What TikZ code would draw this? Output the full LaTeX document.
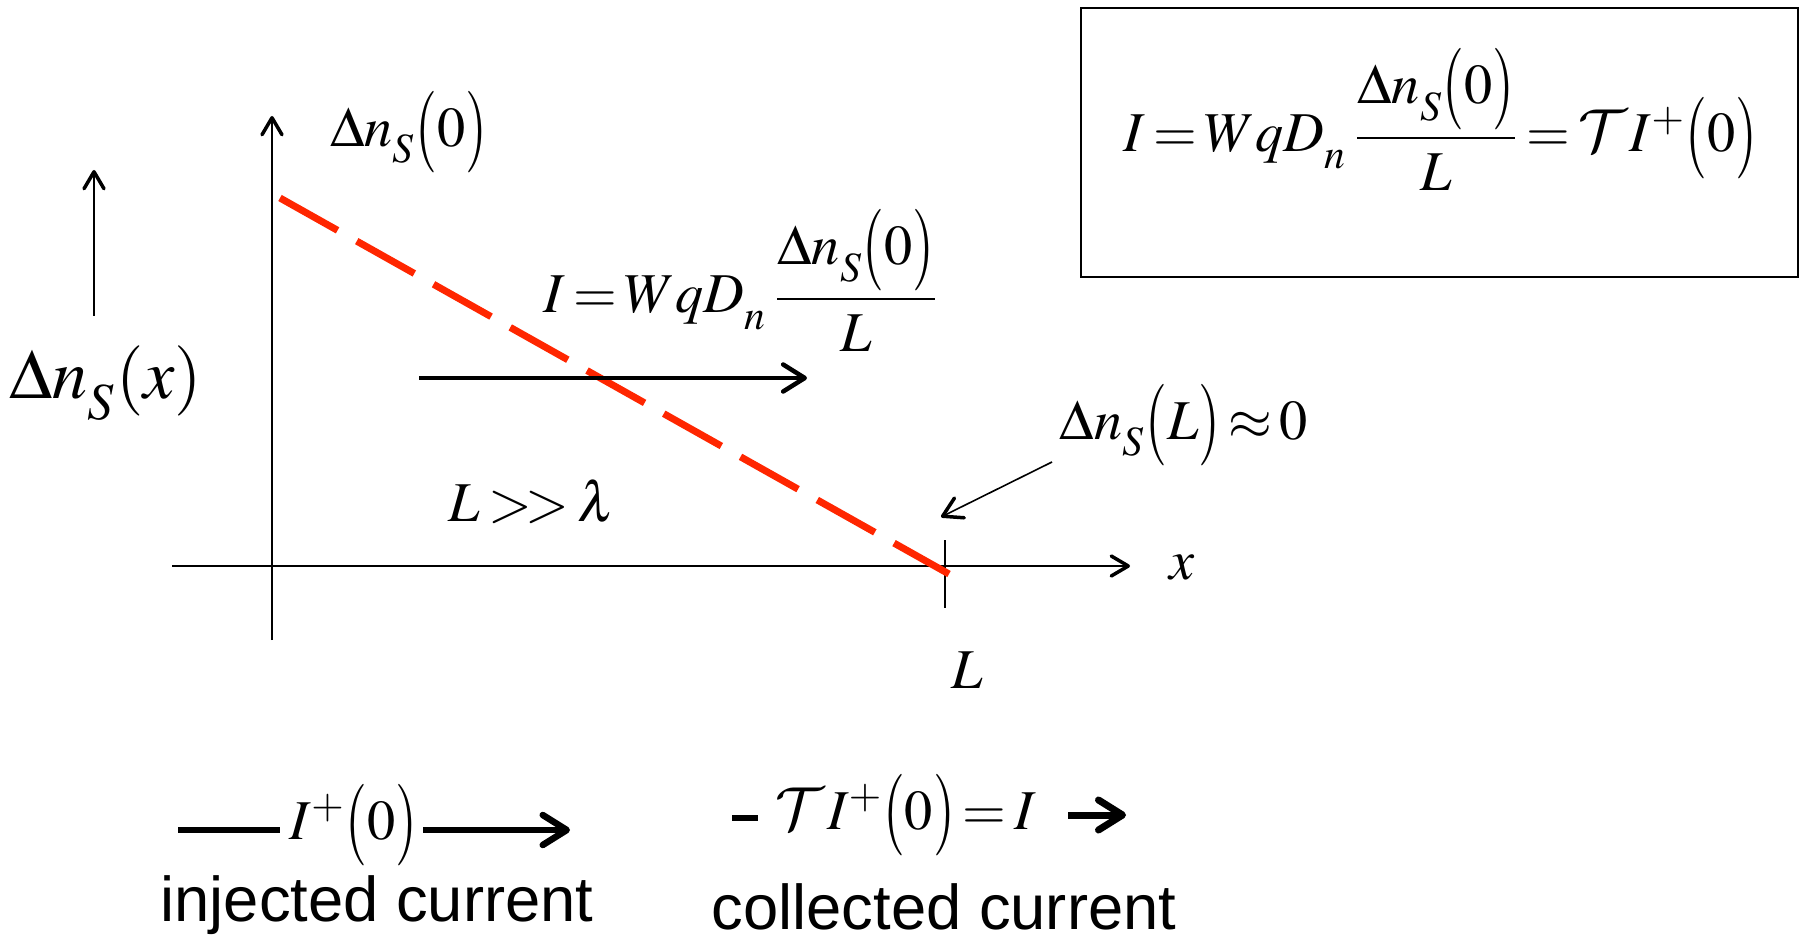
\documentclass[tikz,border=0pt]{standalone}
\usepackage{amsmath}
\usepackage{graphicx}
\usepackage{mathptmx}
\usepackage[no-math]{fontspec}
\setsansfont{Liberation Sans}
\usetikzlibrary{arrows.meta}
\definecolor{dashred}{RGB}{255,38,0}
\DeclareMathAlphabet{\mathcmcal}{OMS}{cmsy}{m}{n}
\newcommand{\tightmath}{\thickmuskip=2.5mu\relax\medmuskip=2mu\relax}
\newcommand{\lp}{\mathopen{\vcenter{\hbox{\scalebox{1}[1.45]{$($}}}}}
\newcommand{\rp}{\mathclose{\vcenter{\hbox{\scalebox{1}[1.45]{$)$}}}}}
\newcommand{\dsub}[1]{_{\lower0.15em\hbox{$\scriptstyle #1$}}}
\tikzset{
  px/.style={line width=#1*0.2845pt},
  chev/.style={-{Straight Barb[length=#1*0.8*0.2845pt, width=#1*0.2845pt, round]}},
  thinchev/.style={-{Straight Barb[length=#1*0.85*0.2845pt, width=#1*0.2845pt, round, line width=3.5*0.2845pt]}},
  eqtext/.style={inner sep=0pt, font={\fontsize{16}{19}\selectfont}},
  captext/.style={inner sep=0pt, font={\sffamily\fontsize{18}{21}\selectfont}},
}
\begin{document}
\begin{tikzpicture}[x=0.01cm,y=-0.01cm]
\path[use as bounding box, fill=white] (0,0) rectangle (1801,937);

% left small arrow and label
\coordinate (la0) at (94,316);
\coordinate (la1) at (94,170);
\draw[px=2, thinchev=20] (la0) -- (la1);
\node[inner sep=0pt, font={\fontsize{20}{24}\selectfont}] (nsx) at (106,383) {$\Delta n\dsub{S}(x)$};

% axes
\coordinate (yb) at (272,640);
\coordinate (yt) at (272,116);
\coordinate (xl) at (172,566);
\coordinate (xr) at (1130,566);
\draw[px=2, thinchev=20] (yb) -- (yt);
\draw[px=2, thinchev=20] (xl) -- (xr);
\coordinate (tk0) at (945,540);
\coordinate (tk1) at (945,608);
\draw[px=2] (tk0) -- (tk1);

\node[eqtext] (xlab) at (1182,568) {$x$};
\node[eqtext] (Llab) at (967,670) {$L$};
\node[eqtext] (n0) at (409,132) {$\Delta n\dsub{S}\lp 0\rp$};

% red dashed profile
\coordinate (r0) at (280,198);
\coordinate (r1) at (949,574);
\draw[dashred, px=7, dash pattern=on 66*0.2845pt off 22*0.2845pt] (r0) -- (r1);

% current arrow
\coordinate (ca0) at (419,378);
\coordinate (ca1) at (807,378);
\draw[px=4.5, chev=27] (ca0) -- (ca1);

% middle equation
\node[eqtext, anchor=base west] (meq) at (543,313)
  {$\tightmath I = WqD\dsub{n}\mkern2mu\dfrac{\Delta n\dsub{S}\lp 0\rp}{L}$};

\node[eqtext] (llam) at (532,502) {$\tightmath L \mathrel{>\mkern-2mu>} \lambda$};

% Delta n(L) approx 0 annotation
\node[eqtext] (nL) at (1184,425) {$\tightmath \Delta n\dsub{S}\lp L\rp \approx 0$};
\coordinate (an0) at (1052,462);
\coordinate (an1) at (941,517);
\draw[px=1.6, thinchev=22] (an0) -- (an1);

% box equation
\node[draw, px=2.5, minimum width=717*0.01cm, minimum height=269*0.01cm, inner sep=0pt] (box) at (1439.5,142.5) {};
\node[eqtext, anchor=base west] (beq) at (1123,152)
  {$\tightmath I = WqD\dsub{n}\mkern2mu\dfrac{\Delta n\dsub{S}\lp 0\rp}{L} = \mathcmcal{T}\mkern1mu I^{+}\lp 0\rp$};

% bottom: injected current
\coordinate (d0) at (178,830);
\coordinate (d1) at (280,830);
\draw[px=6.5] (d0) -- (d1);
\node[eqtext, anchor=west] (ip) at (289,825) {$I^{+}\lp 0\rp$};
\coordinate (ia0) at (423,830);
\coordinate (ia1) at (570,830);
\draw[px=6.5, chev=30] (ia0) -- (ia1);
\node[captext] (inj) at (377,905) {injected current};

% bottom: collected current
\coordinate (e0) at (732,818);
\coordinate (e1) at (758,818);
\draw[px=6.5] (e0) -- (e1);
\node[eqtext, anchor=west] (tip) at (775,815) {$\tightmath \mathcmcal{T}\mkern1mu I^{+}\lp 0\rp = I$};
\coordinate (ca2) at (1068,815);
\coordinate (ca3) at (1126,815);
\draw[px=7, chev=30] (ca2) -- (ca3);
\node[captext] (col) at (944,907) {collected current};
\end{tikzpicture}
\end{document}
